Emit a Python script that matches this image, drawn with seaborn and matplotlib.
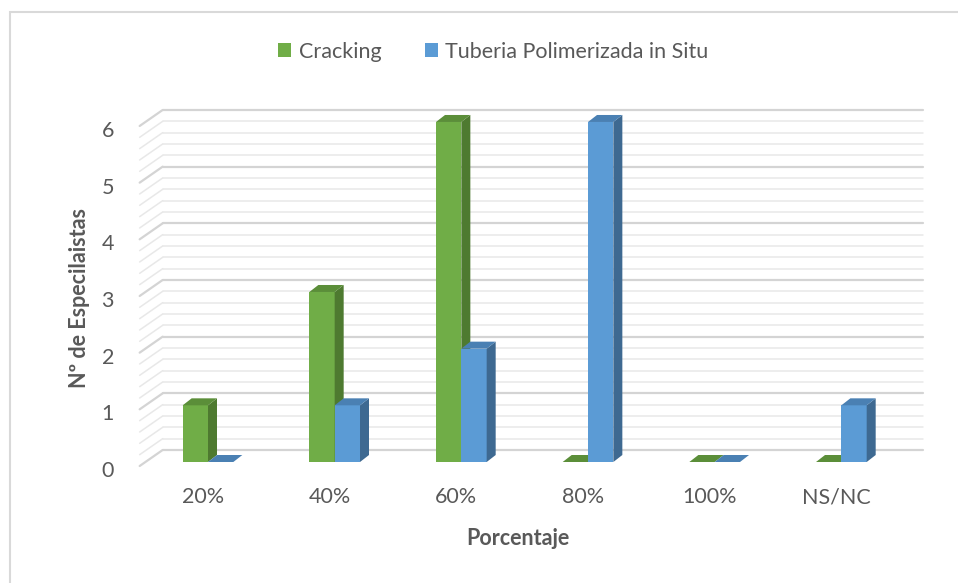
import matplotlib.pyplot as plt
import seaborn as sns
import numpy as np
import pandas as pd
from matplotlib.patches import Polygon, Rectangle

# data
categories = ['20%', '40%', '60%', '80%', '100%', 'NS/NC']
cracking = [1, 3, 6, 0, 0, 0]
tuberia = [0, 1, 2, 6, 0, 1]
series_names = ['Cracking', 'Tuberia Polimerizada in Situ']
y_ticks = [0, 1, 2, 3, 4, 5, 6]

front_colors = {'Cracking': '#70AD47', 'Tuberia Polimerizada in Situ': '#5B9BD5'}
side_colors = {'Cracking': '#4E7A30', 'Tuberia Polimerizada in Situ': '#3E6991'}
top_colors = {'Cracking': '#5B8E39', 'Tuberia Polimerizada in Situ': '#4A80B3'}

df = pd.DataFrame({
    'Porcentaje': categories * 2,
    'valor': cracking + tuberia,
    'serie': [series_names[0]] * len(categories) + [series_names[1]] * len(categories),
})

sns.set_style('white')
plt.rcParams['font.family'] = ['Lato', 'DejaVu Sans']
text_color = '#595959'

W, H = 958, 583
fig = plt.figure(figsize=(W / 100, H / 100), dpi=100)

# layout of the "bar plane" in pixels
sx, sy = 126.67, 56.67          # pixels per unit
x0_px, y0_px = 208, 462         # pixel of category 0 / value 0
xlim = (-0.6, 5.5)
ylim = (-0.2, 6.0)
left = x0_px + xlim[0] * sx
bottom = y0_px - ylim[0] * sy
ax = fig.add_axes([left / W, 1 - bottom / H, (xlim[1] - xlim[0]) * sx / W,
                   (ylim[1] - ylim[0]) * sy / H])

sns.barplot(data=df, x='Porcentaje', y='valor', hue='serie', palette=front_colors,
            width=0.4, gap=0, saturation=1, ax=ax, linewidth=0)
ax.set_xlim(*xlim)
ax.set_ylim(*ylim)
sns.despine(ax=ax, left=True, bottom=True)

FRONT = (-5, -4)
BACK = (18, 12)
DEPTH = (9, 7)


def off(x, y, d):
    p = ax.transData.transform((x, y)) + np.array(d)
    return ax.transData.inverted().transform(p)


# walls gridlines
for v in np.arange(0, 6.001, 0.2):
    major = abs(v - round(v)) < 1e-6
    c = '#D4D4D4' if major else '#E8E8E8'
    lw = 1.6 if major else 1.1
    a = off(-0.5, v, BACK)
    b = off(5.5, v, BACK)
    f = off(-0.5, v, FRONT)
    ax.plot([a[0], b[0]], [a[1], b[1]], color=c, lw=lw, zorder=0.5, clip_on=False)
    ax.plot([f[0], a[0]], [f[1], a[1]], color=c, lw=lw, zorder=0.5, clip_on=False)

# 3d faces for bars
bars = [p for p in ax.patches if isinstance(p, Rectangle)]
n = len(categories)
for i, p in enumerate(bars[:2 * n]):
    name = series_names[i // n]
    z = 2 if i < n else 3
    p.set_zorder(z)
    x, w, h = p.get_x(), p.get_width(), p.get_height()
    tl, tr, br = (x, h), (x + w, h), (x + w, 0)
    side = [br, tr, off(*tr, DEPTH), off(*br, DEPTH)]
    top = [tl, tr, off(*tr, DEPTH), off(*tl, DEPTH)]
    ax.add_patch(Polygon(side, closed=True, facecolor=side_colors[name], lw=0, zorder=z, clip_on=False))
    ax.add_patch(Polygon(top, closed=True, facecolor=top_colors[name], lw=0, zorder=z, clip_on=False))

# ticks
xt = [off(i, 0, FRONT)[0] for i in range(n)]
ax.set_xticks(xt, categories)
yt = [off(-0.5, v, (-5, -7))[1] for v in y_ticks]
ax.set_yticks(yt, [str(v) for v in y_ticks])
ax.tick_params(axis='x', length=0, pad=10, labelsize=15.5, labelcolor=text_color)
ax.tick_params(axis='y', length=0, pad=13, labelsize=15.5, labelcolor=text_color)

ax.set_xlabel('Porcentaje', fontsize=15.5, fontweight='bold', color=text_color, labelpad=15)
ax.set_ylabel('Nº de Especilaistas', fontsize=15.5, fontweight='bold', color=text_color, labelpad=8)

handles, labels = ax.get_legend_handles_labels()
ax.legend(handles, labels, loc='center', bbox_to_anchor=(0.515, 0.911),
          bbox_transform=fig.transFigure, ncol=2, frameon=False, fontsize=15.5,
          handlelength=0.6, handleheight=0.6, handletextpad=0.35,
          columnspacing=2.0, labelcolor=text_color)

# chart border
fig.patches.append(Rectangle((10 / W, -0.05), 1.0, 1 - 12 / H + 0.05, transform=fig.transFigure,
                             fill=False, edgecolor='#D9D9D9', lw=1.5))

fig.savefig('out.png', dpi=100)
